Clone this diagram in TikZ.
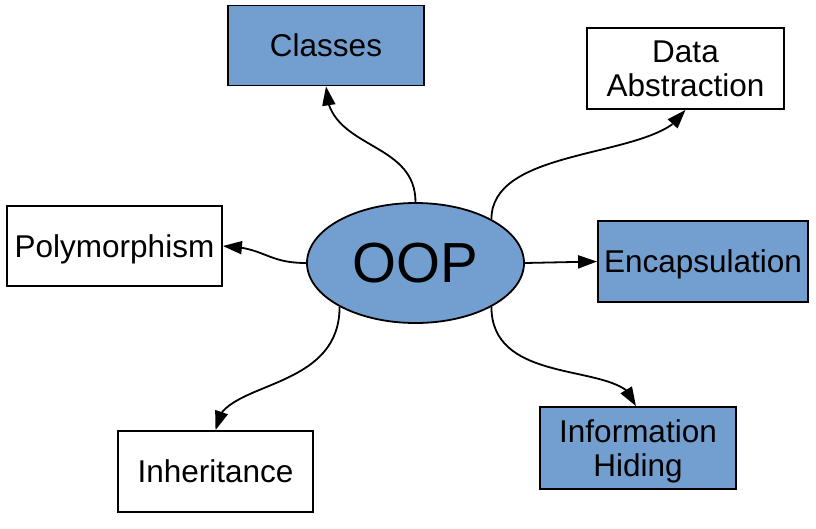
\documentclass[tikz,border=0pt]{standalone}
\usepackage{fontspec}
\setmainfont{Liberation Sans}
\usepackage{tikz}
\usetikzlibrary{positioning, shapes.geometric, arrows.meta, bending}

\definecolor{oopblue}{HTML}{729FCF}

\begin{document}
\begin{tikzpicture}[
            x=1pt, y=-1pt,
            topic/.style={draw=black, line width=1.8pt, rectangle, inner sep=0pt, align=center, text depth=0pt, font=\fontsize{31.5}{33.5}\selectfont},
            bluetopic/.style={topic, fill=oopblue},
            core/.style={draw=black, line width=1.8pt, ellipse, fill=oopblue, inner sep=0pt, minimum width=217pt, minimum height=120pt, font=\fontsize{56.5}{60}\selectfont},
            link/.style={line width=1.8pt, -{Triangle[length=19pt, width=13pt]}}
        ]

        \useasboundingbox (0,0) rectangle (816,528);

        % Knoten
        \node[core] (oop) at (415.5,263) {OOP};
        \node[bluetopic, minimum width=196pt, minimum height=80pt] (classes) at (326,45.5) {Classes};
        \node[topic, minimum width=197pt, minimum height=81pt] (abstraction) at (685.5,68.5) {Data\\Abstraction};
        \node[topic, minimum width=215pt, minimum height=80pt] (poly) at (114.5,246) {Polymorphism};
        \node[bluetopic, minimum width=210pt, minimum height=81pt] (encaps) at (703,261.5) {Encapsulation};
        \node[bluetopic, minimum width=196pt, minimum height=82pt] (hiding) at (638,448) {Information\\Hiding};
        \node[topic, minimum width=195pt, minimum height=81pt] (inherit) at (215.5,471.5) {Inheritance};

        % Kanten
        \draw[link] (oop.north) .. controls +(0,-63) and +(0,64) .. (classes.south);
        \draw[link] (oop.30) .. controls +(0,-75) and +(-25,50) .. (abstraction.south);
        \draw[link] (oop.west) .. controls +(-40,0) and +(42,1) .. (poly.east);
        \draw[link] (oop.east) -- (encaps.west);
        \draw[link] (oop.210) .. controls +(0,88) and +(0,-51) .. (inherit.north);
        \draw[link] (oop.-30) .. controls +(0,84) and +(-6,-47) .. ([xshift=-2pt]hiding.north);

    \end{tikzpicture}
\end{document}
